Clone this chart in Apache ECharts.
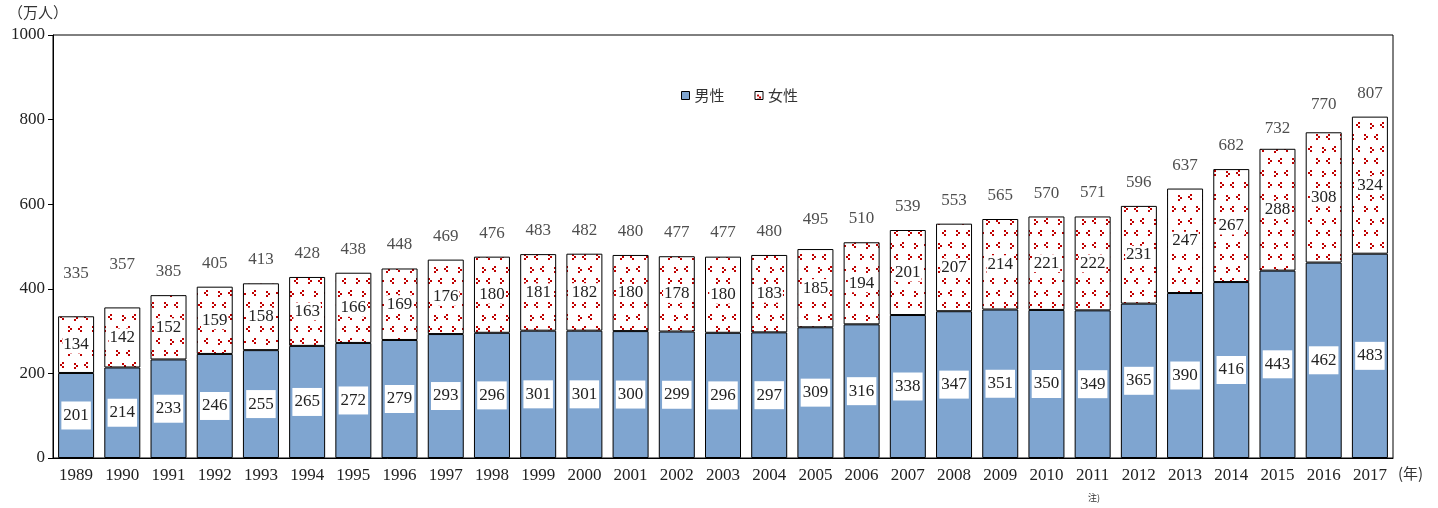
<!DOCTYPE html>
<html>
<head>
<meta charset="utf-8">
<script src="https://cdn.jsdelivr.net/npm/echarts@6/dist/echarts.min.js"></script>
<style>
  html, body { margin: 0; padding: 0; background: #fff; }
  #chart { width: 1438px; height: 508px; }
</style>
</head>
<body>
<div id="chart"></div>
<script>
// data
const years = ['1989', '1990', '1991', '1992', '1993', '1994', '1995', '1996', '1997', '1998',
  '1999', '2000', '2001', '2002', '2003', '2004', '2005', '2006', '2007', '2008',
  '2009', '2010', '2011', '2012', '2013', '2014', '2015', '2016', '2017'];
const male = [201, 214, 233, 246, 255, 265, 272, 279, 293, 296,
  301, 301, 300, 299, 296, 297, 309, 316, 338, 347,
  351, 350, 349, 365, 390, 416, 443, 462, 483];
const female = [134, 142, 152, 159, 158, 163, 166, 169, 176, 180,
  181, 182, 180, 178, 180, 183, 185, 194, 201, 207,
  214, 221, 222, 231, 247, 267, 288, 308, 324];
const total = [335, 357, 385, 405, 413, 428, 438, 448, 469, 476,
  483, 482, 480, 477, 477, 480, 495, 510, 539, 553,
  565, 570, 571, 596, 637, 682, 732, 770, 807];
const yTicks = [0, 200, 400, 600, 800, 1000];

const serif = '"Liberation Serif", "DejaVu Serif", "Noto Sans CJK JP", serif';
const cjk = '"Noto Sans CJK JP", sans-serif';

// a few total labels sit higher/lower in the original
const totalLift = { 0: 19, 1: 19, 16: 6, 26: -4, 27: 4 };

// dotted red pattern for the female bars
function makePattern() {
  const c = document.createElement('canvas');
  c.width = 24; c.height = 24;
  const g = c.getContext('2d');
  g.fillStyle = '#fff';
  g.fillRect(0, 0, 24, 24);
  g.fillStyle = '#c00000';
  const dots = [[2, 3], [4, 5], [2, 7], [14, 2], [12, 4], [14, 6], [8, 14], [6, 16], [8, 18], [20, 14], [22, 16], [20, 18]];
  dots.forEach(d => g.fillRect(d[0], d[1], 2, 2));
  return c;
}

const totalData = total.map((v, i) => {
  if (totalLift[i] == null) return v;
  return { value: v, label: { distance: 15 + totalLift[i] } };
});

const chart = echarts.init(document.getElementById('chart'));
chart.setOption({
  animation: false,
  textStyle: { fontFamily: serif },
  grid: { left: 53, right: 45, top: 35, bottom: 50, show: true, borderColor: '#000', borderWidth: 1 },
  legend: {
    top: 83, left: 676, itemGap: 30, itemWidth: 8, itemHeight: 8,
    textStyle: { fontFamily: cjk, fontSize: 15, color: '#333' },
    data: [
      { name: '男性', icon: 'rect', itemStyle: { borderColor: '#000', borderWidth: 1 } },
      { name: '女性', icon: 'rect', itemStyle: { borderColor: '#000', borderWidth: 1 } }
    ]
  },
  xAxis: {
    type: 'category', data: years,
    axisLine: { lineStyle: { color: '#000', width: 1 } },
    axisTick: { show: false },
    axisLabel: { color: '#222', fontSize: 17, margin: 9, fontFamily: serif }
  },
  yAxis: {
    type: 'value', min: 0, max: 1000, interval: 200,
    splitLine: { show: false },
    axisLine: { show: true, lineStyle: { color: '#000' } },
    axisTick: { show: true, inside: false, length: 5, lineStyle: { color: '#000' } },
    axisLabel: { color: '#222', fontSize: 17, margin: 8, fontFamily: serif,
      formatter: v => yTicks.includes(v) ? String(v) : '' }
  },
  series: [
    {
      name: '男性', type: 'bar', stack: 'a', barWidth: 36, data: male,
      itemStyle: { color: '#7fa5d0', borderColor: '#000', borderWidth: 1 },
      label: {
        show: true, position: 'inside', color: '#222', fontSize: 17, fontFamily: serif,
        backgroundColor: '#fff', padding: [6, 2, 5, 2]
      }
    },
    {
      name: '女性', type: 'bar', stack: 'a', barWidth: 36, data: female,
      itemStyle: { color: { image: makePattern(), repeat: 'repeat' }, borderColor: '#000', borderWidth: 1 },
      label: {
        show: true, position: 'inside', color: '#222', fontSize: 17, fontFamily: serif,
        backgroundColor: '#fff', padding: [1, 1, 0, 1]
      }
    },
    {
      name: '合計', type: 'scatter', data: totalData, symbolSize: 0, silent: true,
      label: { show: true, position: 'top', distance: 15, color: '#222', fontSize: 17, fontFamily: serif }
    }
  ],
  graphic: [
    { type: 'text', left: 8, top: 5, style: { text: '（万人）', font: '15px "Noto Sans CJK JP"', fill: '#333' } },
    { type: 'text', left: 1398, top: 466, style: { text: '(年)', font: '15px "Noto Sans CJK JP"', fill: '#333' } },
    { type: 'text', left: 1088, top: 493, style: { text: '注)', font: '9px "Noto Sans CJK JP"', fill: '#333' } }
  ]
});
</script>
</body>
</html>
